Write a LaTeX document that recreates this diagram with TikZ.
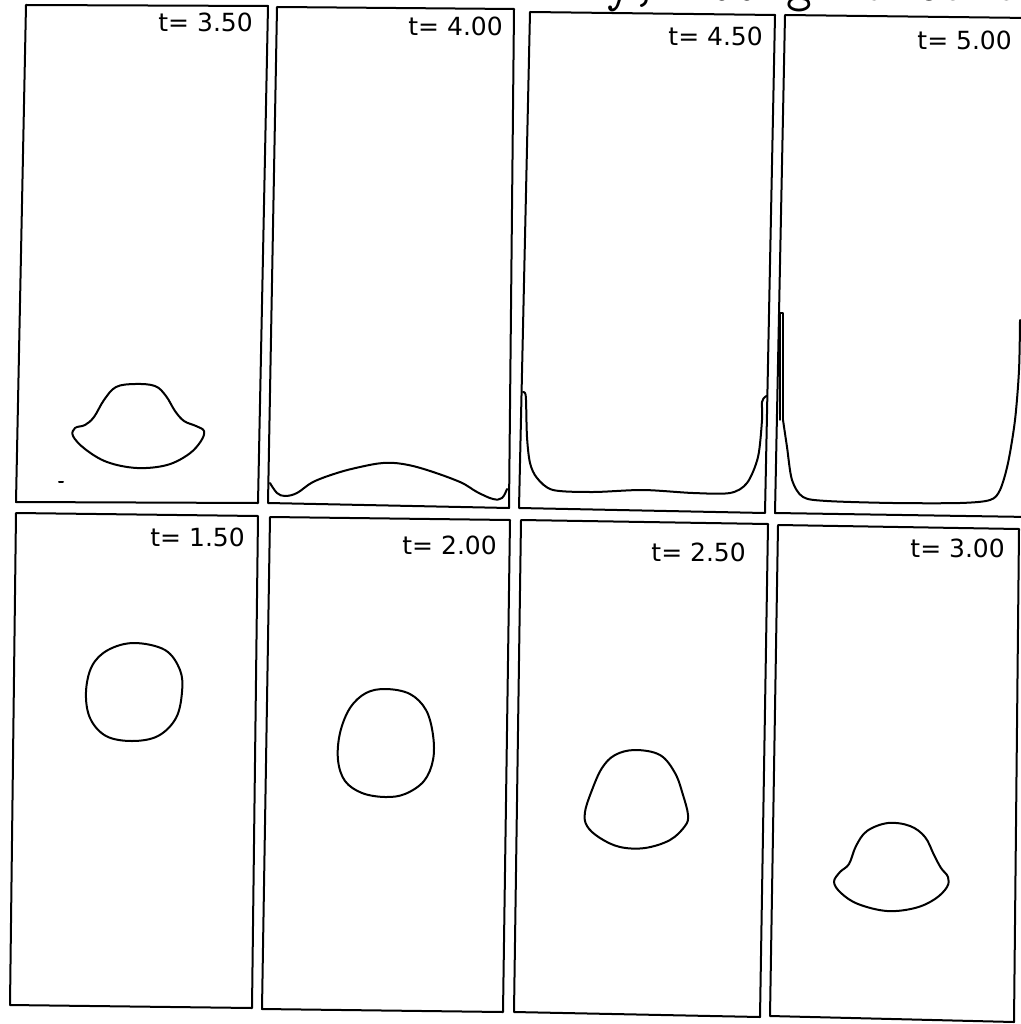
\documentclass[tikz,border=0pt]{standalone}
\usepackage{fontspec}
\newfontfamily\lblfont{DejaVu Sans}
\begin{document}
\begin{tikzpicture}[x=1pt,y=-1pt,
  panel/.style={draw=black,line width=2pt,line join=round},
  iface/.style={draw=black,line width=2pt,line join=round,line cap=round},
  tlabel/.style={font=\lblfont\fontsize{25}{25}\selectfont,inner sep=0pt,anchor=east}]
\useasboundingbox[fill=white] (0,0) rectangle (1020,1024);
% partially visible title (cut off at top edge)
\node[font=\ttfamily\fontsize{50}{50}\selectfont,anchor=base west,inner sep=0pt] (title) at (606,1) {y, 100 grid Contin};
% ---------- top row ----------
\draw[panel] (26,5) -- (268,6) -- (258,503) -- (16,502) -- cycle;
\draw[panel] (277,7) -- (514,9) -- (509,508) -- (268,503) -- cycle;
\draw[panel] (530,12) -- (775,15) -- (765,513) -- (519,508) -- cycle;
\draw[panel] (1030,18) -- (785,15) -- (775,513) -- (1030,517);
% ---------- bottom row ----------
\draw[panel] (16,513) -- (258,516) -- (252,1008) -- (10,1005) -- cycle;
\draw[panel] (270,517) -- (510,520) -- (503,1012) -- (262,1009) -- cycle;
\draw[panel] (521,520) -- (768,524) -- (760,1017) -- (514,1012) -- cycle;
\draw[panel] (778,525) -- (1019,529) -- (1014,1022) -- (770,1016) -- cycle;
% ---------- labels ----------
\node[tlabel] (l350) at (253,22) {t= 3.50};
\node[tlabel] (l400) at (503,26) {t= 4.00};
\node[tlabel] (l450) at (763,36) {t= 4.50};
\node[tlabel] (l500) at (1012,40) {t= 5.00};
\node[tlabel] (l150) at (245,537) {t= 1.50};
\node[tlabel] (l200) at (497,545) {t= 2.00};
\node[tlabel] (l250) at (746,552) {t= 2.50};
\node[tlabel] (l300) at (1005,548) {t= 3.00};
% ---------- interfaces ----------
% t=1.50
\draw[iface] plot[smooth cycle,tension=0.6] coordinates {(134,643) (165,650) (180,670) (182,692) (176,718) (158,736) (132,741) (106,736) (90,718) (86,692) (92,666) (108,650)};
% t=2.00
\draw[iface] plot[smooth cycle,tension=0.6] coordinates {(386,689) (410,694) (426,710) (433,735) (433,760) (424,781) (405,794) (385,797) (362,793) (345,781) (338,760) (340,733) (350,708) (366,693)};
% t=2.50
\draw[iface] plot[smooth cycle,tension=0.6] coordinates {(635,750) (660,755) (675,773) (683,795) (688,815) (685,826) (670,840) (645,848) (620,847) (600,838) (587,826) (585,812) (592,790) (602,768) (615,755)};
% t=3.00
\draw[iface] plot[smooth cycle,tension=0.6] coordinates {(888,823) (910,826) (925,837) (934,855) (941,868) (948,877) (947,887) (935,899) (915,908) (887,911) (858,904) (841,893) (834,882) (840,872) (849,864) (856,846) (867,831)};
% t=3.50
\draw[iface] plot[smooth cycle,tension=0.6] coordinates {(135,384) (155,386) (166,396) (175,411) (184,421) (196,426) (204,431) (201,441) (189,454) (167,465) (137,468) (107,462) (85,449) (73,436) (75,428) (85,425) (94,417) (104,400) (116,387)};
\draw[iface] (59,482) -- (63,482);
% t=4.00
\draw[iface] plot[smooth,tension=0.6] coordinates {(270,483) (277,493) (285,496) (297,493) (313,482) (337,473) (360,467) (383,463) (403,464) (427,470) (460,482) (477,492) (493,499) (502,498) (507,489)};
% t=4.50
\draw[iface] plot[smooth,tension=0.5] coordinates {(523,392) (525,393) (526,400) (527,437) (530,463) (537,478) (553,490) (593,492) (643,490) (693,493) (730,493) (747,483) (758,457) (762,420) (762,402) (765,397) (767,396)};
% t=5.00
\draw[iface,line width=1.4pt] (780,420) -- (780,313) -- (783,313) -- (783,420);
\draw[iface] plot[smooth,tension=0.5] coordinates {(783,420) (787,447) (792,480) (803,497) (827,501) (893,503) (960,503) (990,500) (1000,490) (1008,463) (1015,420) (1019,370) (1020,320)};
\end{tikzpicture}
\end{document}
